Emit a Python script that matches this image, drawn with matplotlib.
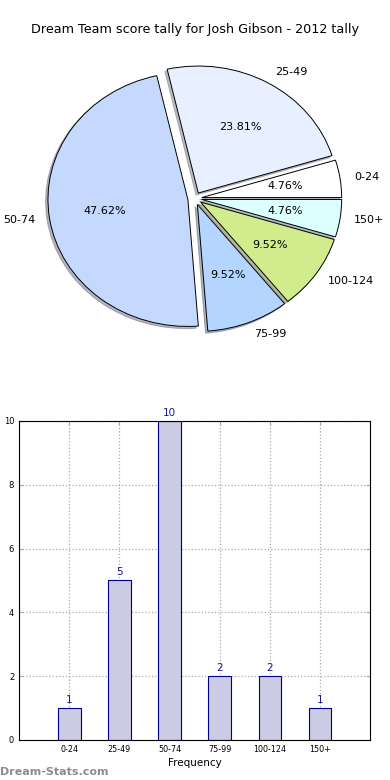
import matplotlib
matplotlib.use('Agg')
import matplotlib.pyplot as plt
import numpy as np

# score ranges and how many games fell in each
categories = ['0-24', '25-49', '50-74', '75-99', '100-124', '150+']
tally = [1, 5, 10, 2, 2, 1]
pie_colours = ['#ffffff', '#e8f0ff', '#c5d9ff', '#b3d5ff', '#d0ec8c', '#dcffff']
explode = [0.05, 0.05, 0.05, 0.05, 0.05, 0.05]

fig = plt.figure(figsize=(3.9, 7.8), dpi=100)

# Pie of the tally
pie_ax = fig.add_axes([0.051, 0.542, 0.897, 0.407])
wedges, texts, autotexts = pie_ax.pie(tally, labels=categories, colors=pie_colours,
                                      explode=explode, autopct='%1.2f%%',
                                      shadow={'ox': -0.012, 'oy': -0.012, 'shade': 0.5},
                                      startangle=0,
                                      wedgeprops={'edgecolor': 'black', 'linewidth': 0.7},
                                      textprops={'fontsize': 8})
pie_ax.set_aspect('auto')
fig.text(0.5, 1 - 30 / 780, 'Dream Team score tally for Josh Gibson - 2012 tally',
         ha='center', va='center', fontsize=9.2)

# Bar chart of the same tally
bar_ax = fig.add_axes([0.049, 0.0513, 0.9, 0.409])
ind = np.arange(len(categories))
bars = bar_ax.bar(ind, tally, width=0.45, color='#cbcbe3', edgecolor='#00008b',
                  linewidth=0.8, zorder=2)
for b, v in zip(bars, tally):
    bar_ax.text(b.get_x() + b.get_width() / 2, v + 0.1, str(v), ha='center', va='bottom',
                color='#1a1a8c', fontsize=7.5)

bar_ax.set_xlim(-1, 6)
bar_ax.set_ylim(0, 10)
bar_ax.set_xticks(ind)
bar_ax.set_xticklabels(categories, fontsize=5.8)
bar_ax.set_yticks(range(0, 11, 2))
bar_ax.tick_params(axis='y', labelsize=6)
bar_ax.tick_params(direction='in', length=3, color='#aaaaaa', top=True, right=True)
bar_ax.grid(True, linestyle=':', color='#aaaaaa', linewidth=0.9, zorder=0)
bar_ax.set_axisbelow(True)
bar_ax.set_xlabel('Frequency', fontsize=7.5, labelpad=3)
bar_ax.set_ylabel('Distribution Tally', fontsize=7.5)

fig.text(0.0, 0.004, 'Dream-Stats.com', ha='left', va='bottom', color='#8c8c8c',
         fontsize=8, fontweight='bold')

fig.savefig('out.png', dpi=100)
